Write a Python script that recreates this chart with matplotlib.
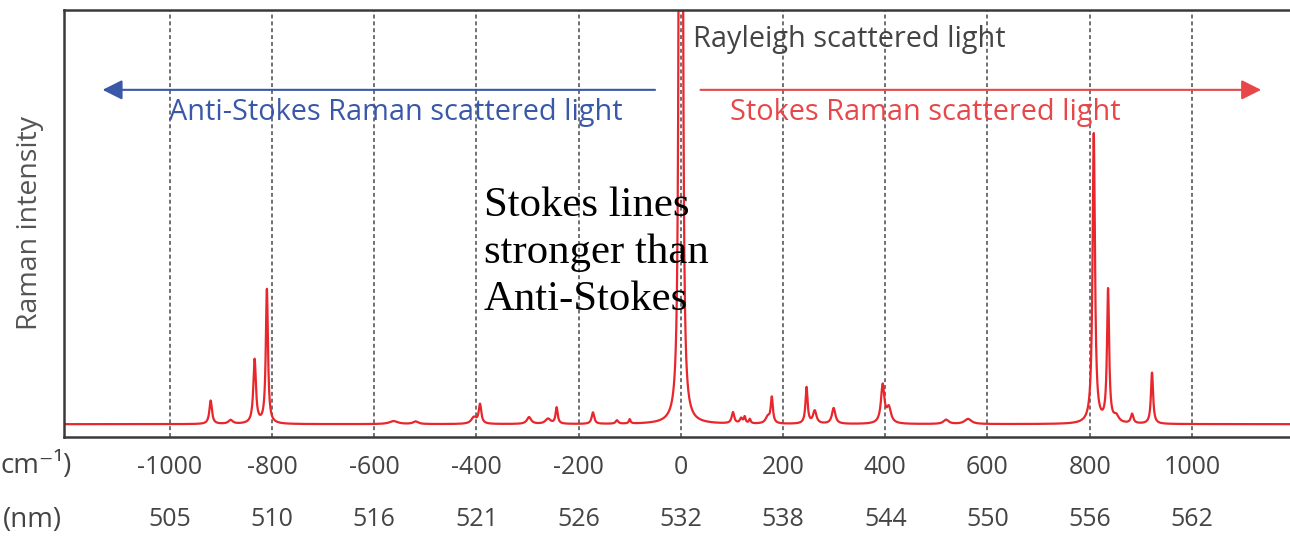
"""Raman spectrum sketch: Rayleigh line with Stokes / anti-Stokes bands."""
import numpy as np
import matplotlib
matplotlib.use("Agg")
import matplotlib.pyplot as plt
from matplotlib.transforms import blended_transform_factory

plt.rcParams.update({
    "font.family": ["Open Sans", "DejaVu Sans"],
    "axes.unicode_minus": False,
})

SPEC = "#e8262b"
BLUE, RED, GREY = "#3a58a8", "#e8474a", "#444444"

# peak table: shift (cm-1), height above baseline, half width (cm-1)
peak_pos = [-920, -881, -834, -810, -562, -519, -405, -393, -297, -260, -243, -172,
            -125, -100, -2, 2, 102, 118, 125, 135, 170, 178, 246, 262, 299, 395, 407,
            519, 562, 808, 836, 852, 883, 922]
peak_hgt = [5.5, 0.9, 15.0, 31.5, 0.7, 0.6, 1.5, 4.5, 1.6, 1.2, 3.8, 2.7,
            0.8, 1.0, 250.0, 250.0, 2.6, 1.2, 1.5, 1.0, 1.5, 6.0, 8.5, 3.0, 3.7, 9.0, 3.5,
            1.0, 1.2, 68.0, 31.0, 1.5, 2.2, 12.0]
peak_hw = [3, 5, 3, 2.5, 10, 6, 6, 3, 5, 6, 2.5, 3,
           3, 2, 1.8, 1.8, 3, 3, 2, 2, 5, 2.5, 2.5, 4, 4, 4, 5,
           6, 8, 2.8, 2.5, 6, 3, 2.5]
baseline = 3.0

cm_ticks = [-1000, -800, -600, -400, -200, 0, 200, 400, 600, 800, 1000]
nm_labels = ["505", "510", "516", "521", "526", "532", "538", "544", "550", "556", "562"]

x = np.linspace(-1207, 1192, 8000)
y = np.full_like(x, baseline)
for p, h, w in zip(peak_pos, peak_hgt, peak_hw):
    y += h * w**2 / ((x - p)**2 + w**2)

fig = plt.figure(figsize=(12.9, 5.39), dpi=100)
ax = fig.add_axes([64/1290, 102/539, 1 - 64/1290, 427/539])
ax.set_xlim(-1207, 1192)
ax.set_ylim(0, 100)

for t in cm_ticks:
    ax.axvline(t, color="#666666", lw=1.3, ls=(0, (2.2, 1.6)), zorder=1)
ax.plot(x, y, color=SPEC, lw=1.6, zorder=2)

for s in ["top", "left", "bottom"]:
    ax.spines[s].set_color("#3a3a3a")
    ax.spines[s].set_linewidth(1.8)
ax.spines["right"].set_visible(False)
ax.set_yticks([])
ax.set_xticks(cm_ticks)
ax.set_xticklabels([str(t) for t in cm_ticks], fontsize=18, color=GREY)
ax.tick_params(axis="x", length=0, pad=13)

trans = blended_transform_factory(ax.transData, fig.transFigure)
for t, lab in zip(cm_ticks, nm_labels):
    ax.text(t, 1 - 520/539, lab, transform=trans, ha="center", va="center",
            fontsize=18, color=GREY)
# the row label is cut at the left edge in the original: only "cm-1)" shows
fig.text(0.5/1290, 1 - 466/539, "cm\u207b\u00b9)", ha="left", va="center", fontsize=20, color=GREY)
fig.text(62/1290, 1 - 520/539, "(nm)", ha="right", va="center", fontsize=20, color=GREY)
fig.text(30/1290, 1 - 223/539, "Raman intensity", rotation=90, ha="center", va="center",
         fontsize=20.5, color="#555555")

# direction arrows + labels
ax.annotate("", xy=(-1137, 81.3), xytext=(-45, 81.3),
            arrowprops=dict(arrowstyle="-|>", color=BLUE, lw=1.5, mutation_scale=30))
ax.annotate("", xy=(1141, 81.3), xytext=(33, 81.3),
            arrowprops=dict(arrowstyle="-|>", color=RED, lw=1.5, mutation_scale=30))
ax.text(-1002, 76.1, "Anti-Stokes Raman scattered light", color=BLUE, fontsize=20.8,
        ha="left", va="center")
ax.text(97, 76.1, "Stokes Raman scattered light", color=RED, fontsize=20.8,
        ha="left", va="center")
ax.text(23, 93.2, "Rayleigh scattered light", color=GREY, fontsize=20.8,
        ha="left", va="center")

ax.text(-385, 58.6, "Stokes lines\nstronger than\nAnti-Stokes", family="Liberation Serif",
        fontsize=30.8, color="black", ha="left", va="top", linespacing=1.28, zorder=5)

fig.savefig("out.png", dpi=100)
